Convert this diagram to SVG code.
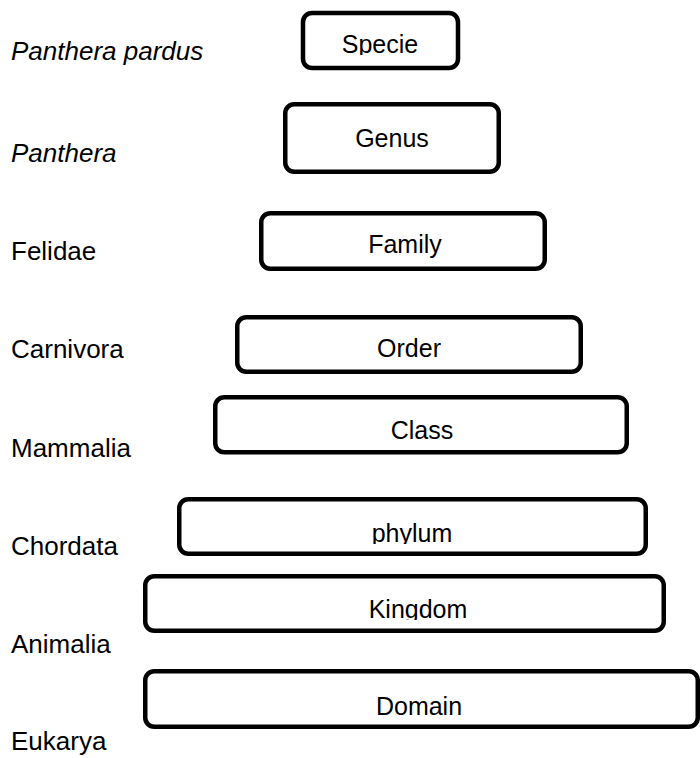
<svg xmlns="http://www.w3.org/2000/svg" width="700" height="758" viewBox="0 0 700 758">
<style>
.box{fill:#fff;stroke:#000;stroke-width:4.5}
.t{font-family:"Liberation Sans",Arial,sans-serif;font-size:25px;fill:#000;text-anchor:middle}
.l{font-family:"Liberation Sans",Arial,sans-serif;font-size:26px;fill:#000}
.i{font-style:italic}
</style>
<defs>
<clipPath id="cSpecie"><rect x="300" y="0" width="160" height="55"/></clipPath>
<clipPath id="cFamily"><rect x="260" y="200" width="290" height="255"/></clipPath>
<clipPath id="cPhylum"><rect x="180" y="500" width="470" height="44"/></clipPath>
<clipPath id="cKingdom"><rect x="145" y="580" width="520" height="40"/></clipPath>
</defs>
<rect width="700" height="758" fill="#fff"/>
<g id="connectors"/>
<g id="specie">
<rect class="box" x="303" y="13" width="155" height="55" rx="9"/>
<text class="t" x="380" y="53" clip-path="url(#cSpecie)">Specie</text>
</g>
<g id="genus">
<rect class="box" x="285.25" y="104.25" width="213.5" height="67.5" rx="9"/>
<text class="t" x="392" y="147">Genus</text>
</g>
<g id="family">
<rect class="box" x="261.25" y="213.25" width="283.5" height="55.5" rx="9"/>
<text class="t" x="405" y="253" clip-path="url(#cFamily)">Family</text>
</g>
<g id="order">
<rect class="box" x="237.25" y="317.25" width="343.5" height="54.5" rx="9"/>
<text class="t" x="409" y="357">Order</text>
</g>
<g id="class">
<rect class="box" x="215.25" y="397.25" width="411.5" height="55" rx="9"/>
<text class="t" x="422" y="439">Class</text>
</g>
<g id="phylum">
<rect class="box" x="179.25" y="499.25" width="466.5" height="54.5" rx="9"/>
<text class="t" x="412" y="542" clip-path="url(#cPhylum)">phylum</text>
</g>
<g id="kingdom">
<rect class="box" x="145.25" y="576.25" width="518.5" height="54.5" rx="9"/>
<text class="t" x="418" y="618" clip-path="url(#cKingdom)">Kingdom</text>
</g>
<g id="domain">
<rect class="box" x="145.25" y="671.25" width="552.5" height="55.5" rx="9"/>
<text class="t" x="419" y="715">Domain</text>
</g>
<g id="label-panthera-pardus"><text class="l i" x="11" y="60">Panthera pardus</text></g>
<g id="label-panthera"><text class="l i" x="11" y="162">Panthera</text></g>
<g id="label-felidae"><text class="l" x="11" y="260">Felidae</text></g>
<g id="label-carnivora"><text class="l" x="11" y="358">Carnivora</text></g>
<g id="label-mammalia"><text class="l" x="11" y="457">Mammalia</text></g>
<g id="label-chordata"><text class="l" x="11" y="555">Chordata</text></g>
<g id="label-animalia"><text class="l" x="11" y="653">Animalia</text></g>
<g id="label-eukarya"><text class="l" x="11" y="750">Eukarya</text></g>
</svg>
